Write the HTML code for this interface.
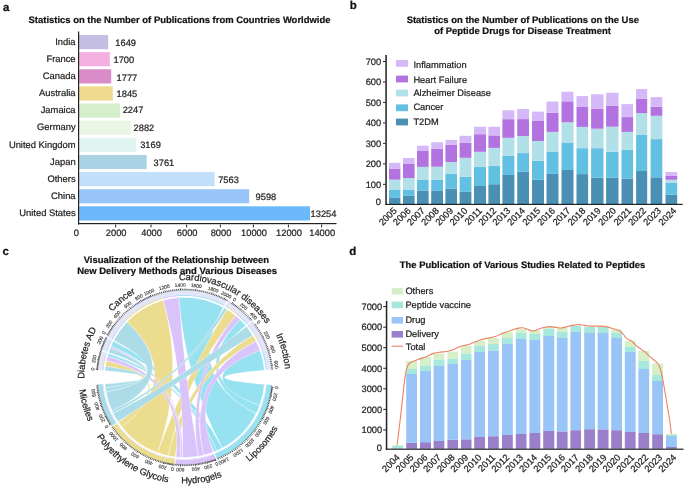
<!DOCTYPE html>
<html><head><meta charset="utf-8"><style>
html,body{margin:0;padding:0;background:#fff;}
svg{display:block;font-family:"Liberation Sans", sans-serif;text-rendering:geometricPrecision;will-change:transform;}
text{stroke:#222;stroke-width:0.22px;paint-order:stroke;}
</style></head><body>
<svg width="685" height="486" viewBox="0 0 685 486">
<rect width="685" height="486" fill="#fff"/>
<text x="3.00" y="11.00" font-size="11.5" text-anchor="start" font-weight="bold" fill="#111" >a</text>
<text x="349.80" y="9.00" font-size="11.5" text-anchor="start" font-weight="bold" fill="#111" >b</text>
<text x="2.60" y="254.60" font-size="11.5" text-anchor="start" font-weight="bold" fill="#111" >c</text>
<text x="349.20" y="254.60" font-size="11.5" text-anchor="start" font-weight="bold" fill="#111" >d</text>
<text x="179.50" y="22.60" font-size="9.45" text-anchor="middle" font-weight="bold" fill="#111" >Statistics on the Number of Publications from Countries Worldwide</text>
<rect x="79.20" y="35.00" width="29.00" height="14.20" fill="#c5bee3"/>
<text x="75.60" y="44.80" font-size="9.4" text-anchor="end" fill="#222" >India</text>
<text x="115.30" y="45.70" font-size="9.3" text-anchor="start" fill="#222" >1649</text>
<rect x="79.20" y="52.13" width="30.60" height="14.20" fill="#f2afe0"/>
<text x="75.60" y="61.93" font-size="9.4" text-anchor="end" fill="#222" >France</text>
<text x="113.50" y="63.00" font-size="9.3" text-anchor="start" fill="#222" >1700</text>
<rect x="79.20" y="69.26" width="32.00" height="14.20" fill="#d98cc7"/>
<text x="75.60" y="79.06" font-size="9.4" text-anchor="end" fill="#222" >Canada</text>
<text x="116.60" y="80.60" font-size="9.3" text-anchor="start" fill="#222" >1777</text>
<rect x="79.20" y="86.39" width="33.60" height="14.20" fill="#efd98c"/>
<text x="75.60" y="96.19" font-size="9.4" text-anchor="end" fill="#222" >Australia</text>
<text x="116.60" y="97.00" font-size="9.3" text-anchor="start" fill="#222" >1845</text>
<rect x="79.20" y="103.52" width="40.80" height="14.20" fill="#d4efca"/>
<text x="75.60" y="113.32" font-size="9.4" text-anchor="end" fill="#222" >Jamaica</text>
<text x="122.70" y="113.30" font-size="9.3" text-anchor="start" fill="#222" >2247</text>
<rect x="79.20" y="120.65" width="51.60" height="14.20" fill="#e9f6e3"/>
<text x="75.60" y="130.45" font-size="9.4" text-anchor="end" fill="#222" >Germany</text>
<text x="133.60" y="131.20" font-size="9.3" text-anchor="start" fill="#222" >2882</text>
<rect x="79.20" y="137.78" width="56.80" height="14.20" fill="#e0f5f1"/>
<text x="75.60" y="147.58" font-size="9.4" text-anchor="end" fill="#222" >United Kingdom</text>
<text x="140.20" y="148.40" font-size="9.3" text-anchor="start" fill="#222" >3169</text>
<rect x="79.20" y="154.91" width="67.40" height="14.20" fill="#a9d2e4"/>
<text x="75.60" y="164.71" font-size="9.4" text-anchor="end" fill="#222" >Japan</text>
<text x="153.60" y="165.60" font-size="9.3" text-anchor="start" fill="#222" >3761</text>
<rect x="79.20" y="172.04" width="135.40" height="14.20" fill="#c2dffa"/>
<text x="75.60" y="181.84" font-size="9.4" text-anchor="end" fill="#222" >Others</text>
<text x="218.20" y="183.00" font-size="9.3" text-anchor="start" fill="#222" >7563</text>
<rect x="79.20" y="189.17" width="170.00" height="14.20" fill="#98c6f9"/>
<text x="75.60" y="198.97" font-size="9.4" text-anchor="end" fill="#222" >China</text>
<text x="255.60" y="200.00" font-size="9.3" text-anchor="start" fill="#222" >9598</text>
<rect x="79.20" y="206.30" width="230.80" height="14.20" fill="#6bb8fa"/>
<text x="75.60" y="216.10" font-size="9.4" text-anchor="end" fill="#222" >United States</text>
<text x="310.60" y="217.20" font-size="9.3" text-anchor="start" fill="#222" >13254</text>
<rect x="78.00" y="31.50" width="1.20" height="193.10" fill="#222"/>
<rect x="78.00" y="223.00" width="258.50" height="1.20" fill="#222"/>
<text x="76.30" y="236.00" font-size="9.3" text-anchor="middle" fill="#222" >0</text>
<rect x="115.10" y="224.60" width="1.00" height="2.80" fill="#222"/>
<text x="116.20" y="236.00" font-size="9.3" text-anchor="middle" fill="#222" >2000</text>
<rect x="150.50" y="224.60" width="1.00" height="2.80" fill="#222"/>
<text x="151.60" y="236.00" font-size="9.3" text-anchor="middle" fill="#222" >4000</text>
<rect x="186.10" y="224.60" width="1.00" height="2.80" fill="#222"/>
<text x="187.20" y="236.00" font-size="9.3" text-anchor="middle" fill="#222" >6000</text>
<rect x="219.90" y="224.60" width="1.00" height="2.80" fill="#222"/>
<text x="221.00" y="236.00" font-size="9.3" text-anchor="middle" fill="#222" >8000</text>
<rect x="252.90" y="224.60" width="1.00" height="2.80" fill="#222"/>
<text x="254.00" y="236.00" font-size="9.3" text-anchor="middle" fill="#222" >10000</text>
<rect x="287.90" y="224.60" width="1.00" height="2.80" fill="#222"/>
<text x="289.00" y="236.00" font-size="9.3" text-anchor="middle" fill="#222" >12000</text>
<rect x="321.10" y="224.60" width="1.00" height="2.80" fill="#222"/>
<text x="322.20" y="236.00" font-size="9.3" text-anchor="middle" fill="#222" >14000</text>
<text x="522.80" y="22.60" font-size="9.45" text-anchor="middle" font-weight="bold" fill="#111" >Statistics on the Number of Publications on the Use</text>
<text x="522.50" y="33.60" font-size="9.45" text-anchor="middle" font-weight="bold" fill="#111" >of Peptide Drugs for Disease Treatment</text>
<rect x="389.00" y="197.90" width="11.40" height="6.10" fill="#4a8fb4"/>
<rect x="389.00" y="189.50" width="11.40" height="8.40" fill="#62c0e2"/>
<rect x="389.00" y="179.60" width="11.40" height="9.90" fill="#b1e0e8"/>
<rect x="389.00" y="168.90" width="11.40" height="10.70" fill="#b272e0"/>
<rect x="389.00" y="162.85" width="11.40" height="6.05" fill="#d5b8f8"/>
<text x="397.30" y="211.40" font-size="9.3" text-anchor="end" fill="#222" transform="rotate(-45 397.30 211.40)">2005</text>
<rect x="403.00" y="195.90" width="11.60" height="8.10" fill="#4a8fb4"/>
<rect x="403.00" y="189.50" width="11.60" height="6.40" fill="#62c0e2"/>
<rect x="403.00" y="178.00" width="11.60" height="11.50" fill="#b1e0e8"/>
<rect x="403.00" y="164.00" width="11.60" height="14.00" fill="#b272e0"/>
<rect x="403.00" y="158.00" width="11.60" height="6.00" fill="#d5b8f8"/>
<text x="411.40" y="211.40" font-size="9.3" text-anchor="end" fill="#222" transform="rotate(-45 411.40 211.40)">2006</text>
<rect x="417.00" y="190.50" width="11.60" height="13.50" fill="#4a8fb4"/>
<rect x="417.00" y="179.80" width="11.60" height="10.70" fill="#62c0e2"/>
<rect x="417.00" y="166.90" width="11.60" height="12.90" fill="#b1e0e8"/>
<rect x="417.00" y="151.00" width="11.60" height="15.90" fill="#b272e0"/>
<rect x="417.00" y="145.70" width="11.60" height="5.30" fill="#d5b8f8"/>
<text x="425.40" y="211.40" font-size="9.3" text-anchor="end" fill="#222" transform="rotate(-45 425.40 211.40)">2007</text>
<rect x="431.20" y="190.90" width="11.80" height="13.10" fill="#4a8fb4"/>
<rect x="431.20" y="180.00" width="11.80" height="10.90" fill="#62c0e2"/>
<rect x="431.20" y="166.70" width="11.80" height="13.30" fill="#b1e0e8"/>
<rect x="431.20" y="148.90" width="11.80" height="17.80" fill="#b272e0"/>
<rect x="431.20" y="142.30" width="11.80" height="6.60" fill="#d5b8f8"/>
<text x="439.70" y="211.40" font-size="9.3" text-anchor="end" fill="#222" transform="rotate(-45 439.70 211.40)">2008</text>
<rect x="445.40" y="188.50" width="11.60" height="15.50" fill="#4a8fb4"/>
<rect x="445.40" y="173.70" width="11.60" height="14.80" fill="#62c0e2"/>
<rect x="445.40" y="162.00" width="11.60" height="11.70" fill="#b1e0e8"/>
<rect x="445.40" y="144.90" width="11.60" height="17.10" fill="#b272e0"/>
<rect x="445.40" y="139.90" width="11.60" height="5.00" fill="#d5b8f8"/>
<text x="453.80" y="211.40" font-size="9.3" text-anchor="end" fill="#222" transform="rotate(-45 453.80 211.40)">2009</text>
<rect x="459.60" y="191.90" width="11.80" height="12.10" fill="#4a8fb4"/>
<rect x="459.60" y="176.60" width="11.80" height="15.30" fill="#62c0e2"/>
<rect x="459.60" y="157.80" width="11.80" height="18.80" fill="#b1e0e8"/>
<rect x="459.60" y="142.90" width="11.80" height="14.90" fill="#b272e0"/>
<rect x="459.60" y="135.80" width="11.80" height="7.10" fill="#d5b8f8"/>
<text x="468.10" y="211.40" font-size="9.3" text-anchor="end" fill="#222" transform="rotate(-45 468.10 211.40)">2010</text>
<rect x="474.00" y="186.00" width="12.00" height="18.00" fill="#4a8fb4"/>
<rect x="474.00" y="166.90" width="12.00" height="19.10" fill="#62c0e2"/>
<rect x="474.00" y="151.80" width="12.00" height="15.10" fill="#b1e0e8"/>
<rect x="474.00" y="134.20" width="12.00" height="17.60" fill="#b272e0"/>
<rect x="474.00" y="126.75" width="12.00" height="7.45" fill="#d5b8f8"/>
<text x="482.60" y="211.40" font-size="9.3" text-anchor="end" fill="#222" transform="rotate(-45 482.60 211.40)">2011</text>
<rect x="488.40" y="184.20" width="11.60" height="19.80" fill="#4a8fb4"/>
<rect x="488.40" y="165.70" width="11.60" height="18.50" fill="#62c0e2"/>
<rect x="488.40" y="147.90" width="11.60" height="17.80" fill="#b1e0e8"/>
<rect x="488.40" y="135.40" width="11.60" height="12.50" fill="#b272e0"/>
<rect x="488.40" y="126.75" width="11.60" height="8.65" fill="#d5b8f8"/>
<text x="496.80" y="211.40" font-size="9.3" text-anchor="end" fill="#222" transform="rotate(-45 496.80 211.40)">2012</text>
<rect x="502.40" y="175.00" width="12.00" height="29.00" fill="#4a8fb4"/>
<rect x="502.40" y="155.60" width="12.00" height="19.40" fill="#62c0e2"/>
<rect x="502.40" y="137.80" width="12.00" height="17.80" fill="#b1e0e8"/>
<rect x="502.40" y="119.20" width="12.00" height="18.60" fill="#b272e0"/>
<rect x="502.40" y="110.30" width="12.00" height="8.90" fill="#d5b8f8"/>
<text x="511.00" y="211.40" font-size="9.3" text-anchor="end" fill="#222" transform="rotate(-45 511.00 211.40)">2013</text>
<rect x="517.20" y="171.80" width="11.80" height="32.20" fill="#4a8fb4"/>
<rect x="517.20" y="153.10" width="11.80" height="18.70" fill="#62c0e2"/>
<rect x="517.20" y="136.00" width="11.80" height="17.10" fill="#b1e0e8"/>
<rect x="517.20" y="119.10" width="11.80" height="16.90" fill="#b272e0"/>
<rect x="517.20" y="109.00" width="11.80" height="10.10" fill="#d5b8f8"/>
<text x="525.76" y="211.40" font-size="9.3" text-anchor="end" fill="#222" transform="rotate(-45 525.76 211.40)">2014</text>
<rect x="532.00" y="179.80" width="12.00" height="24.20" fill="#4a8fb4"/>
<rect x="532.00" y="160.90" width="12.00" height="18.90" fill="#62c0e2"/>
<rect x="532.00" y="141.00" width="12.00" height="19.90" fill="#b1e0e8"/>
<rect x="532.00" y="121.00" width="12.00" height="20.00" fill="#b272e0"/>
<rect x="532.00" y="111.60" width="12.00" height="9.40" fill="#d5b8f8"/>
<text x="540.96" y="211.40" font-size="9.3" text-anchor="end" fill="#222" transform="rotate(-45 540.96 211.40)">2015</text>
<rect x="546.50" y="173.90" width="12.00" height="30.10" fill="#4a8fb4"/>
<rect x="546.50" y="151.60" width="12.00" height="22.30" fill="#62c0e2"/>
<rect x="546.50" y="131.90" width="12.00" height="19.70" fill="#b1e0e8"/>
<rect x="546.50" y="112.70" width="12.00" height="19.20" fill="#b272e0"/>
<rect x="546.50" y="101.50" width="12.00" height="11.20" fill="#d5b8f8"/>
<text x="555.75" y="211.40" font-size="9.3" text-anchor="end" fill="#222" transform="rotate(-45 555.75 211.40)">2016</text>
<rect x="561.50" y="170.00" width="12.00" height="34.00" fill="#4a8fb4"/>
<rect x="561.50" y="142.50" width="12.00" height="27.50" fill="#62c0e2"/>
<rect x="561.50" y="122.30" width="12.00" height="20.20" fill="#b1e0e8"/>
<rect x="561.50" y="101.30" width="12.00" height="21.00" fill="#b272e0"/>
<rect x="561.50" y="91.70" width="12.00" height="9.60" fill="#d5b8f8"/>
<text x="571.04" y="211.40" font-size="9.3" text-anchor="end" fill="#222" transform="rotate(-45 571.04 211.40)">2017</text>
<rect x="576.50" y="174.10" width="11.60" height="29.90" fill="#4a8fb4"/>
<rect x="576.50" y="148.20" width="11.60" height="25.90" fill="#62c0e2"/>
<rect x="576.50" y="126.90" width="11.60" height="21.30" fill="#b1e0e8"/>
<rect x="576.50" y="107.00" width="11.60" height="19.90" fill="#b272e0"/>
<rect x="576.50" y="96.10" width="11.60" height="10.90" fill="#d5b8f8"/>
<text x="586.14" y="211.40" font-size="9.3" text-anchor="end" fill="#222" transform="rotate(-45 586.14 211.40)">2018</text>
<rect x="591.10" y="177.70" width="12.40" height="26.30" fill="#4a8fb4"/>
<rect x="591.10" y="148.20" width="12.40" height="29.50" fill="#62c0e2"/>
<rect x="591.10" y="128.70" width="12.40" height="19.50" fill="#b1e0e8"/>
<rect x="591.10" y="109.00" width="12.40" height="19.70" fill="#b272e0"/>
<rect x="591.10" y="94.30" width="12.40" height="14.70" fill="#d5b8f8"/>
<text x="601.44" y="211.40" font-size="9.3" text-anchor="end" fill="#222" transform="rotate(-45 601.44 211.40)">2019</text>
<rect x="606.10" y="177.50" width="12.40" height="26.50" fill="#4a8fb4"/>
<rect x="606.10" y="151.80" width="12.40" height="25.70" fill="#62c0e2"/>
<rect x="606.10" y="126.70" width="12.40" height="25.10" fill="#b1e0e8"/>
<rect x="606.10" y="105.90" width="12.40" height="20.80" fill="#b272e0"/>
<rect x="606.10" y="92.70" width="12.40" height="13.20" fill="#d5b8f8"/>
<text x="616.73" y="211.40" font-size="9.3" text-anchor="end" fill="#222" transform="rotate(-45 616.73 211.40)">2020</text>
<rect x="621.50" y="178.50" width="11.60" height="25.50" fill="#4a8fb4"/>
<rect x="621.50" y="149.70" width="11.60" height="28.80" fill="#62c0e2"/>
<rect x="621.50" y="131.90" width="11.60" height="17.80" fill="#b1e0e8"/>
<rect x="621.50" y="117.10" width="11.60" height="14.80" fill="#b272e0"/>
<rect x="621.50" y="104.10" width="11.60" height="13.00" fill="#d5b8f8"/>
<text x="632.03" y="211.40" font-size="9.3" text-anchor="end" fill="#222" transform="rotate(-45 632.03 211.40)">2021</text>
<rect x="636.10" y="171.00" width="11.10" height="33.00" fill="#4a8fb4"/>
<rect x="636.10" y="135.00" width="11.10" height="36.00" fill="#62c0e2"/>
<rect x="636.10" y="113.20" width="11.10" height="21.80" fill="#b1e0e8"/>
<rect x="636.10" y="98.90" width="11.10" height="14.30" fill="#b272e0"/>
<rect x="636.10" y="89.10" width="11.10" height="9.80" fill="#d5b8f8"/>
<text x="646.67" y="211.40" font-size="9.3" text-anchor="end" fill="#222" transform="rotate(-45 646.67 211.40)">2022</text>
<rect x="650.60" y="177.30" width="11.70" height="26.70" fill="#4a8fb4"/>
<rect x="650.60" y="139.10" width="11.70" height="38.20" fill="#62c0e2"/>
<rect x="650.60" y="115.80" width="11.70" height="23.30" fill="#b1e0e8"/>
<rect x="650.60" y="106.70" width="11.70" height="9.10" fill="#b272e0"/>
<rect x="650.60" y="97.10" width="11.70" height="9.60" fill="#d5b8f8"/>
<text x="661.76" y="211.40" font-size="9.3" text-anchor="end" fill="#222" transform="rotate(-45 661.76 211.40)">2023</text>
<rect x="665.50" y="194.80" width="11.70" height="9.20" fill="#4a8fb4"/>
<rect x="665.50" y="182.80" width="11.70" height="12.00" fill="#62c0e2"/>
<rect x="665.50" y="179.75" width="11.70" height="3.05" fill="#b1e0e8"/>
<rect x="665.50" y="175.70" width="11.70" height="4.05" fill="#b272e0"/>
<rect x="665.50" y="172.00" width="11.70" height="3.70" fill="#d5b8f8"/>
<text x="676.96" y="211.40" font-size="9.3" text-anchor="end" fill="#222" transform="rotate(-45 676.96 211.40)">2024</text>
<rect x="385.30" y="55.00" width="1.50" height="150.00" fill="#222"/>
<rect x="385.30" y="203.80" width="297.40" height="1.20" fill="#222"/>
<text x="381.00" y="205.20" font-size="9.3" text-anchor="end" fill="#222" >0</text>
<rect x="383.00" y="183.83" width="2.60" height="1.00" fill="#222"/>
<text x="381.20" y="187.63" font-size="9.3" text-anchor="end" fill="#222" >100</text>
<rect x="383.00" y="163.35" width="2.60" height="1.00" fill="#222"/>
<text x="381.20" y="167.15" font-size="9.3" text-anchor="end" fill="#222" >200</text>
<rect x="383.00" y="142.88" width="2.60" height="1.00" fill="#222"/>
<text x="381.20" y="146.68" font-size="9.3" text-anchor="end" fill="#222" >300</text>
<rect x="383.00" y="122.40" width="2.60" height="1.00" fill="#222"/>
<text x="381.20" y="126.20" font-size="9.3" text-anchor="end" fill="#222" >400</text>
<rect x="383.00" y="101.93" width="2.60" height="1.00" fill="#222"/>
<text x="381.20" y="105.73" font-size="9.3" text-anchor="end" fill="#222" >500</text>
<rect x="383.00" y="81.45" width="2.60" height="1.00" fill="#222"/>
<text x="381.20" y="85.25" font-size="9.3" text-anchor="end" fill="#222" >600</text>
<rect x="383.00" y="60.98" width="2.60" height="1.00" fill="#222"/>
<text x="381.20" y="64.78" font-size="9.3" text-anchor="end" fill="#222" >700</text>
<rect x="396.00" y="60.00" width="12.00" height="6.80" fill="#d5b8f8"/>
<text x="413.40" y="67.60" font-size="9.3" text-anchor="start" fill="#222" >Inflammation</text>
<rect x="396.00" y="75.60" width="12.00" height="6.80" fill="#b272e0"/>
<text x="413.40" y="82.60" font-size="9.3" text-anchor="start" fill="#222" >Heart Failure</text>
<rect x="396.00" y="89.60" width="12.00" height="6.80" fill="#b1e0e8"/>
<text x="413.40" y="95.60" font-size="9.3" text-anchor="start" fill="#222" >Alzheimer Disease</text>
<rect x="396.00" y="104.40" width="12.00" height="6.80" fill="#62c0e2"/>
<text x="413.40" y="110.40" font-size="9.3" text-anchor="start" fill="#222" >Cancer</text>
<rect x="396.00" y="118.60" width="12.00" height="6.80" fill="#4a8fb4"/>
<text x="413.40" y="124.60" font-size="9.3" text-anchor="start" fill="#222" >T2DM</text>
<text x="522.50" y="268.00" font-size="9.45" text-anchor="middle" font-weight="bold" fill="#111" >The Publication of Various Studies Related to Peptides</text>
<rect x="392.20" y="446.00" width="11.20" height="2.80" fill="#a6e8dc"/>
<rect x="392.20" y="445.00" width="11.20" height="1.00" fill="#d5efc9"/>
<text x="400.40" y="458.00" font-size="9.3" text-anchor="end" fill="#222" transform="rotate(-45 400.40 458.00)">2004</text>
<rect x="406.20" y="442.80" width="10.80" height="6.00" fill="#9a7fcb"/>
<rect x="406.20" y="374.00" width="10.80" height="68.80" fill="#98c4f8"/>
<rect x="406.20" y="369.00" width="10.80" height="5.00" fill="#a6e8dc"/>
<rect x="406.20" y="361.00" width="10.80" height="8.00" fill="#d5efc9"/>
<text x="414.20" y="458.00" font-size="9.3" text-anchor="end" fill="#222" transform="rotate(-45 414.20 458.00)">2005</text>
<rect x="420.00" y="442.20" width="11.00" height="6.60" fill="#9a7fcb"/>
<rect x="420.00" y="371.00" width="11.00" height="71.20" fill="#98c4f8"/>
<rect x="420.00" y="366.00" width="11.00" height="5.00" fill="#a6e8dc"/>
<rect x="420.00" y="357.00" width="11.00" height="9.00" fill="#d5efc9"/>
<text x="428.10" y="458.00" font-size="9.3" text-anchor="end" fill="#222" transform="rotate(-45 428.10 458.00)">2006</text>
<rect x="433.60" y="441.00" width="10.80" height="7.80" fill="#9a7fcb"/>
<rect x="433.60" y="366.00" width="10.80" height="75.00" fill="#98c4f8"/>
<rect x="433.60" y="359.60" width="10.80" height="6.40" fill="#a6e8dc"/>
<rect x="433.60" y="353.60" width="10.80" height="6.00" fill="#d5efc9"/>
<text x="441.60" y="458.00" font-size="9.3" text-anchor="end" fill="#222" transform="rotate(-45 441.60 458.00)">2007</text>
<rect x="447.40" y="439.80" width="10.60" height="9.00" fill="#9a7fcb"/>
<rect x="447.40" y="364.00" width="10.60" height="75.80" fill="#98c4f8"/>
<rect x="447.40" y="358.60" width="10.60" height="5.40" fill="#a6e8dc"/>
<rect x="447.40" y="351.60" width="10.60" height="7.00" fill="#d5efc9"/>
<text x="455.30" y="458.00" font-size="9.3" text-anchor="end" fill="#222" transform="rotate(-45 455.30 458.00)">2008</text>
<rect x="461.00" y="439.30" width="10.50" height="9.50" fill="#9a7fcb"/>
<rect x="461.00" y="360.00" width="10.50" height="79.30" fill="#98c4f8"/>
<rect x="461.00" y="353.60" width="10.50" height="6.40" fill="#a6e8dc"/>
<rect x="461.00" y="346.00" width="10.50" height="7.60" fill="#d5efc9"/>
<text x="468.85" y="458.00" font-size="9.3" text-anchor="end" fill="#222" transform="rotate(-45 468.85 458.00)">2009</text>
<rect x="474.20" y="437.00" width="10.80" height="11.80" fill="#9a7fcb"/>
<rect x="474.20" y="352.00" width="10.80" height="85.00" fill="#98c4f8"/>
<rect x="474.20" y="346.00" width="10.80" height="6.00" fill="#a6e8dc"/>
<rect x="474.20" y="341.00" width="10.80" height="5.00" fill="#d5efc9"/>
<text x="482.20" y="458.00" font-size="9.3" text-anchor="end" fill="#222" transform="rotate(-45 482.20 458.00)">2010</text>
<rect x="488.00" y="436.20" width="10.80" height="12.60" fill="#9a7fcb"/>
<rect x="488.00" y="350.40" width="10.80" height="85.80" fill="#98c4f8"/>
<rect x="488.00" y="344.00" width="10.80" height="6.40" fill="#a6e8dc"/>
<rect x="488.00" y="338.00" width="10.80" height="6.00" fill="#d5efc9"/>
<text x="496.00" y="458.00" font-size="9.3" text-anchor="end" fill="#222" transform="rotate(-45 496.00 458.00)">2011</text>
<rect x="502.00" y="435.00" width="10.80" height="13.80" fill="#9a7fcb"/>
<rect x="502.00" y="344.00" width="10.80" height="91.00" fill="#98c4f8"/>
<rect x="502.00" y="338.00" width="10.80" height="6.00" fill="#a6e8dc"/>
<rect x="502.00" y="332.00" width="10.80" height="6.00" fill="#d5efc9"/>
<text x="510.00" y="458.00" font-size="9.3" text-anchor="end" fill="#222" transform="rotate(-45 510.00 458.00)">2012</text>
<rect x="515.80" y="434.00" width="10.70" height="14.80" fill="#9a7fcb"/>
<rect x="515.80" y="339.00" width="10.70" height="95.00" fill="#98c4f8"/>
<rect x="515.80" y="333.00" width="10.70" height="6.00" fill="#a6e8dc"/>
<rect x="515.80" y="329.00" width="10.70" height="4.00" fill="#d5efc9"/>
<text x="523.77" y="458.00" font-size="9.3" text-anchor="end" fill="#222" transform="rotate(-45 523.77 458.00)">2013</text>
<rect x="529.40" y="433.00" width="10.90" height="15.80" fill="#9a7fcb"/>
<rect x="529.40" y="340.00" width="10.90" height="93.00" fill="#98c4f8"/>
<rect x="529.40" y="334.00" width="10.90" height="6.00" fill="#a6e8dc"/>
<rect x="529.40" y="330.40" width="10.90" height="3.60" fill="#d5efc9"/>
<text x="537.75" y="458.00" font-size="9.3" text-anchor="end" fill="#222" transform="rotate(-45 537.75 458.00)">2014</text>
<rect x="543.20" y="431.00" width="11.10" height="17.80" fill="#9a7fcb"/>
<rect x="543.20" y="336.00" width="11.10" height="95.00" fill="#98c4f8"/>
<rect x="543.20" y="328.50" width="11.10" height="7.50" fill="#a6e8dc"/>
<rect x="543.20" y="327.00" width="11.10" height="1.50" fill="#d5efc9"/>
<text x="551.92" y="458.00" font-size="9.3" text-anchor="end" fill="#222" transform="rotate(-45 551.92 458.00)">2015</text>
<rect x="556.80" y="431.40" width="10.80" height="17.40" fill="#9a7fcb"/>
<rect x="556.80" y="338.00" width="10.80" height="93.40" fill="#98c4f8"/>
<rect x="556.80" y="331.60" width="10.80" height="6.40" fill="#a6e8dc"/>
<rect x="556.80" y="328.00" width="10.80" height="3.60" fill="#d5efc9"/>
<text x="565.64" y="458.00" font-size="9.3" text-anchor="end" fill="#222" transform="rotate(-45 565.64 458.00)">2016</text>
<rect x="570.40" y="430.20" width="10.60" height="18.60" fill="#9a7fcb"/>
<rect x="570.40" y="332.00" width="10.60" height="98.20" fill="#98c4f8"/>
<rect x="570.40" y="325.60" width="10.60" height="6.40" fill="#a6e8dc"/>
<rect x="570.40" y="325.00" width="10.60" height="0.60" fill="#d5efc9"/>
<text x="579.41" y="458.00" font-size="9.3" text-anchor="end" fill="#222" transform="rotate(-45 579.41 458.00)">2017</text>
<rect x="584.20" y="429.20" width="10.80" height="19.60" fill="#9a7fcb"/>
<rect x="584.20" y="333.00" width="10.80" height="96.20" fill="#98c4f8"/>
<rect x="584.20" y="326.60" width="10.80" height="6.40" fill="#a6e8dc"/>
<rect x="584.20" y="326.00" width="10.80" height="0.60" fill="#d5efc9"/>
<text x="593.58" y="458.00" font-size="9.3" text-anchor="end" fill="#222" transform="rotate(-45 593.58 458.00)">2018</text>
<rect x="597.60" y="429.40" width="10.90" height="19.40" fill="#9a7fcb"/>
<rect x="597.60" y="333.00" width="10.90" height="96.40" fill="#98c4f8"/>
<rect x="597.60" y="327.00" width="10.90" height="6.00" fill="#a6e8dc"/>
<rect x="597.60" y="326.40" width="10.90" height="0.60" fill="#d5efc9"/>
<text x="607.30" y="458.00" font-size="9.3" text-anchor="end" fill="#222" transform="rotate(-45 607.30 458.00)">2019</text>
<rect x="611.20" y="430.20" width="10.80" height="18.60" fill="#9a7fcb"/>
<rect x="611.20" y="338.00" width="10.80" height="92.20" fill="#98c4f8"/>
<rect x="611.20" y="333.00" width="10.80" height="5.00" fill="#a6e8dc"/>
<rect x="611.20" y="329.60" width="10.80" height="3.40" fill="#d5efc9"/>
<text x="621.12" y="458.00" font-size="9.3" text-anchor="end" fill="#222" transform="rotate(-45 621.12 458.00)">2020</text>
<rect x="624.80" y="432.00" width="10.80" height="16.80" fill="#9a7fcb"/>
<rect x="624.80" y="352.00" width="10.80" height="80.00" fill="#98c4f8"/>
<rect x="624.80" y="347.00" width="10.80" height="5.00" fill="#a6e8dc"/>
<rect x="624.80" y="341.00" width="10.80" height="6.00" fill="#d5efc9"/>
<text x="634.99" y="458.00" font-size="9.3" text-anchor="end" fill="#222" transform="rotate(-45 634.99 458.00)">2021</text>
<rect x="638.40" y="433.00" width="10.80" height="15.80" fill="#9a7fcb"/>
<rect x="638.40" y="369.00" width="10.80" height="64.00" fill="#98c4f8"/>
<rect x="638.40" y="361.00" width="10.80" height="8.00" fill="#a6e8dc"/>
<rect x="638.40" y="351.00" width="10.80" height="10.00" fill="#d5efc9"/>
<text x="648.86" y="458.00" font-size="9.3" text-anchor="end" fill="#222" transform="rotate(-45 648.86 458.00)">2022</text>
<rect x="652.20" y="434.20" width="10.80" height="14.60" fill="#9a7fcb"/>
<rect x="652.20" y="381.00" width="10.80" height="53.20" fill="#98c4f8"/>
<rect x="652.20" y="375.00" width="10.80" height="6.00" fill="#a6e8dc"/>
<rect x="652.20" y="363.60" width="10.80" height="11.40" fill="#d5efc9"/>
<text x="662.93" y="458.00" font-size="9.3" text-anchor="end" fill="#222" transform="rotate(-45 662.93 458.00)">2023</text>
<rect x="666.00" y="447.00" width="10.80" height="1.80" fill="#9a7fcb"/>
<rect x="666.00" y="436.00" width="10.80" height="11.00" fill="#98c4f8"/>
<rect x="666.00" y="435.00" width="10.80" height="1.00" fill="#a6e8dc"/>
<rect x="666.00" y="433.80" width="10.80" height="1.20" fill="#d5efc9"/>
<text x="677.01" y="458.00" font-size="9.3" text-anchor="end" fill="#222" transform="rotate(-45 677.01 458.00)">2024</text>
<path d="M397.10,445.00 C397.45,442.20 398.50,434.08 399.20,428.20 C399.90,422.32 400.62,415.87 401.30,409.70 C401.98,403.53 402.72,396.35 403.30,391.20 C403.88,386.05 404.28,382.42 404.80,378.80 C405.32,375.18 405.78,371.90 406.40,369.50 C407.02,367.10 407.65,365.67 408.50,364.40 C409.35,363.13 409.80,362.75 411.50,361.90 C413.20,361.05 416.45,360.08 418.70,359.30 C420.95,358.52 423.22,357.90 425.00,357.20 C426.78,356.50 427.93,355.73 429.40,355.10 C430.87,354.47 432.10,353.88 433.80,353.40 C435.50,352.92 437.42,352.52 439.60,352.20 C441.78,351.88 444.72,351.87 446.90,351.50 C449.08,351.13 451.00,350.62 452.70,350.00 C454.40,349.38 455.63,348.47 457.10,347.80 C458.57,347.13 459.80,346.48 461.50,346.00 C463.20,345.52 465.35,345.45 467.30,344.90 C469.25,344.35 471.25,343.43 473.20,342.70 C475.15,341.97 477.30,341.10 479.00,340.50 C480.70,339.90 481.70,339.53 483.40,339.10 C485.10,338.67 487.25,338.32 489.20,337.90 C491.15,337.48 493.15,337.25 495.10,336.60 C497.05,335.95 498.95,334.80 500.90,334.00 C502.85,333.20 504.85,332.48 506.80,331.80 C508.75,331.12 510.67,330.52 512.60,329.90 C514.53,329.28 516.70,328.45 518.40,328.10 C520.10,327.75 521.65,327.75 522.80,327.80 C523.95,327.85 524.17,328.02 525.30,328.40 C526.43,328.78 528.15,329.67 529.60,330.10 C531.05,330.53 532.53,331.13 534.00,331.00 C535.47,330.87 536.78,329.88 538.40,329.30 C540.02,328.72 541.80,327.95 543.70,327.50 C545.60,327.05 547.62,326.60 549.80,326.60 C551.98,326.60 554.77,327.28 556.80,327.50 C558.83,327.72 560.25,328.05 562.00,327.90 C563.75,327.75 565.53,327.02 567.30,326.60 C569.07,326.18 570.70,325.75 572.60,325.40 C574.50,325.05 576.67,324.50 578.70,324.50 C580.73,324.50 582.62,325.13 584.80,325.40 C586.98,325.67 589.17,325.98 591.80,326.10 C594.43,326.22 598.27,326.02 600.60,326.10 C602.93,326.18 604.05,326.28 605.80,326.60 C607.55,326.92 609.48,327.55 611.10,328.00 C612.72,328.45 614.03,328.80 615.50,329.30 C616.97,329.80 618.58,330.13 619.90,331.00 C621.22,331.87 622.23,333.23 623.40,334.50 C624.57,335.77 625.45,337.43 626.90,338.60 C628.35,339.77 630.50,340.28 632.10,341.50 C633.70,342.72 634.95,344.58 636.50,345.90 C638.05,347.22 639.92,348.37 641.40,349.40 C642.88,350.43 644.07,350.98 645.40,352.10 C646.73,353.22 647.83,354.67 649.40,356.10 C650.97,357.53 653.23,359.22 654.80,360.70 C656.37,362.18 657.68,362.87 658.80,365.00 C659.92,367.13 660.62,369.85 661.50,373.50 C662.38,377.15 663.22,382.00 664.10,386.90 C664.98,391.80 665.90,397.55 666.80,402.90 C667.70,408.25 668.73,413.87 669.50,419.00 C670.27,424.13 671.08,431.25 671.40,433.70" fill="none" stroke="#ee8262" stroke-width="1.1"/>
<rect x="385.80" y="301.00" width="1.50" height="148.80" fill="#222"/>
<rect x="385.80" y="448.60" width="297.80" height="1.20" fill="#222"/>
<text x="381.80" y="450.80" font-size="9.3" text-anchor="end" fill="#222" >0</text>
<rect x="383.20" y="429.44" width="2.80" height="1.00" fill="#222"/>
<text x="382.20" y="433.24" font-size="9.3" text-anchor="end" fill="#222" >1000</text>
<rect x="383.20" y="408.88" width="2.80" height="1.00" fill="#222"/>
<text x="382.20" y="412.68" font-size="9.3" text-anchor="end" fill="#222" >2000</text>
<rect x="383.20" y="388.32" width="2.80" height="1.00" fill="#222"/>
<text x="382.20" y="392.12" font-size="9.3" text-anchor="end" fill="#222" >3000</text>
<rect x="383.20" y="367.76" width="2.80" height="1.00" fill="#222"/>
<text x="382.20" y="371.56" font-size="9.3" text-anchor="end" fill="#222" >4000</text>
<rect x="383.20" y="347.20" width="2.80" height="1.00" fill="#222"/>
<text x="382.20" y="351.00" font-size="9.3" text-anchor="end" fill="#222" >5000</text>
<rect x="383.20" y="326.64" width="2.80" height="1.00" fill="#222"/>
<text x="382.20" y="330.44" font-size="9.3" text-anchor="end" fill="#222" >6000</text>
<rect x="383.20" y="306.08" width="2.80" height="1.00" fill="#222"/>
<text x="382.20" y="309.88" font-size="9.3" text-anchor="end" fill="#222" >7000</text>
<rect x="391.60" y="288.00" width="11.40" height="6.60" fill="#d5efc9"/>
<text x="405.40" y="294.40" font-size="9.3" text-anchor="start" fill="#222" >Others</text>
<rect x="391.60" y="301.60" width="11.40" height="6.60" fill="#a6e8dc"/>
<text x="405.40" y="308.00" font-size="9.3" text-anchor="start" fill="#222" >Peptide vaccine</text>
<rect x="391.60" y="317.00" width="11.40" height="6.60" fill="#98c4f8"/>
<text x="405.40" y="323.00" font-size="9.3" text-anchor="start" fill="#222" >Drug</text>
<rect x="391.60" y="331.00" width="11.40" height="6.60" fill="#9a7fcb"/>
<text x="405.40" y="337.00" font-size="9.3" text-anchor="start" fill="#222" >Delivery</text>
<line x1="391.6" y1="346.2" x2="403" y2="346.2" stroke="#ee8262" stroke-width="1.1"/>
<text x="405.80" y="349.60" font-size="9.3" text-anchor="start" fill="#222" >Total</text>
<path d="M97.61,370.09 A87.40,87.40 0 0 1 101.30,351.26 L106.64,352.94 A81.80,81.80 0 0 0 103.19,370.56 Z" fill="#e3e6f8"/>
<path d="M102.59,370.50 A82.40,82.40 0 0 1 103.10,365.93 L103.80,366.03 A81.70,81.70 0 0 0 103.29,370.56 Z" fill="#abdce8"/>
<path d="M103.10,365.93 A82.40,82.40 0 0 1 104.13,360.13 L104.82,360.27 A81.70,81.70 0 0 0 103.80,366.03 Z" fill="#ebdc8e"/>
<path d="M104.13,360.13 A82.40,82.40 0 0 1 105.26,355.52 L105.93,355.70 A81.70,81.70 0 0 0 104.82,360.27 Z" fill="#dac2fa"/>
<path d="M105.26,355.52 A82.40,82.40 0 0 1 106.07,352.76 L106.74,352.97 A81.70,81.70 0 0 0 105.93,355.70 Z" fill="#96e2f0"/>
<path d="M101.67,350.10 A87.40,87.40 0 0 1 106.83,337.72 L111.82,340.26 A81.80,81.80 0 0 0 106.99,351.85 Z" fill="#e3e6f8"/>
<path d="M106.42,351.66 A82.40,82.40 0 0 1 108.09,347.07 L108.74,347.32 A81.70,81.70 0 0 0 107.09,351.88 Z" fill="#abdce8"/>
<path d="M108.09,347.07 A82.40,82.40 0 0 1 108.85,345.20 L109.49,345.48 A81.70,81.70 0 0 0 108.74,347.32 Z" fill="#dac2fa"/>
<path d="M108.85,345.20 A82.40,82.40 0 0 1 111.28,339.99 L111.90,340.31 A81.70,81.70 0 0 0 109.49,345.48 Z" fill="#96e2f0"/>
<path d="M107.32,336.77 A87.40,87.40 0 0 1 226.81,300.81 L224.11,305.72 A81.80,81.80 0 0 0 112.27,339.38 Z" fill="#e3e6f8"/>
<path d="M111.74,339.10 A82.40,82.40 0 0 1 125.33,320.26 L125.83,320.75 A81.70,81.70 0 0 0 112.36,339.42 Z" fill="#abdce8"/>
<path d="M125.33,320.26 A82.40,82.40 0 0 1 162.68,298.00 L162.87,298.67 A81.70,81.70 0 0 0 125.83,320.75 Z" fill="#ebdc8e"/>
<path d="M162.68,298.00 A82.40,82.40 0 0 1 178.67,295.22 L178.72,295.92 A81.70,81.70 0 0 0 162.87,298.67 Z" fill="#dac2fa"/>
<path d="M178.67,295.22 A82.40,82.40 0 0 1 224.40,305.19 L224.06,305.81 A81.70,81.70 0 0 0 178.72,295.92 Z" fill="#96e2f0"/>
<path d="M227.87,301.41 A87.40,87.40 0 0 1 251.26,320.75 L246.99,324.38 A81.80,81.80 0 0 0 225.10,306.28 Z" fill="#e3e6f8"/>
<path d="M225.40,305.75 A82.40,82.40 0 0 1 228.24,307.44 L227.87,308.04 A81.70,81.70 0 0 0 225.06,306.36 Z" fill="#abdce8"/>
<path d="M228.24,307.44 A82.40,82.40 0 0 1 237.22,313.91 L236.78,314.45 A81.70,81.70 0 0 0 227.87,308.04 Z" fill="#ebdc8e"/>
<path d="M237.22,313.91 A82.40,82.40 0 0 1 241.63,317.83 L241.15,318.33 A81.70,81.70 0 0 0 236.78,314.45 Z" fill="#dac2fa"/>
<path d="M241.63,317.83 A82.40,82.40 0 0 1 247.45,323.99 L246.92,324.45 A81.70,81.70 0 0 0 241.15,318.33 Z" fill="#96e2f0"/>
<path d="M252.04,321.69 A87.40,87.40 0 0 1 271.74,369.48 L266.16,369.99 A81.80,81.80 0 0 0 247.73,325.26 Z" fill="#e3e6f8"/>
<path d="M248.19,324.88 A82.40,82.40 0 0 1 254.73,333.98 L254.14,334.35 A81.70,81.70 0 0 0 247.65,325.32 Z" fill="#abdce8"/>
<path d="M254.73,333.98 A82.40,82.40 0 0 1 258.18,340.12 L257.56,340.44 A81.70,81.70 0 0 0 254.14,334.35 Z" fill="#ebdc8e"/>
<path d="M258.18,340.12 A82.40,82.40 0 0 1 262.28,349.62 L261.62,349.86 A81.70,81.70 0 0 0 257.56,340.44 Z" fill="#dac2fa"/>
<path d="M262.28,349.62 A82.40,82.40 0 0 1 266.76,369.93 L266.06,370.00 A81.70,81.70 0 0 0 261.62,349.86 Z" fill="#96e2f0"/>
<path d="M271.77,385.02 A87.40,87.40 0 0 1 216.87,458.66 L214.81,453.46 A81.80,81.80 0 0 0 266.19,384.53 Z" fill="#96e2f0"/>
<path d="M266.89,384.59 A82.50,82.50 0 0 1 215.07,454.11 L214.78,453.36 A81.70,81.70 0 0 0 266.09,384.52 Z" fill="#e8eafa"/>
<path d="M216.02,458.99 A87.40,87.40 0 0 1 175.26,464.29 L175.87,458.72 A81.80,81.80 0 0 0 214.01,453.77 Z" fill="#dac2fa"/>
<path d="M214.27,454.42 A82.50,82.50 0 0 1 175.79,459.42 L175.88,458.62 A81.70,81.70 0 0 0 213.98,453.67 Z" fill="#e8eafa"/>
<path d="M174.35,464.19 A87.40,87.40 0 0 1 112.41,426.53 L117.04,423.38 A81.80,81.80 0 0 0 175.01,458.62 Z" fill="#ebdc8e"/>
<path d="M174.93,459.32 A82.50,82.50 0 0 1 116.47,423.77 L117.13,423.32 A81.70,81.70 0 0 0 175.03,458.53 Z" fill="#e8eafa"/>
<path d="M111.90,425.77 A87.40,87.40 0 0 1 97.59,384.56 L103.18,384.10 A81.80,81.80 0 0 0 116.57,422.67 Z" fill="#abdce8"/>
<path d="M115.98,423.05 A82.50,82.50 0 0 1 102.48,384.16 L103.27,384.09 A81.70,81.70 0 0 0 116.65,422.61 Z" fill="#e8eafa"/>
<path d="M107.57,356.16 A80.00,80.00 0 0 1 108.36,353.48 Q184.70,377.40 216.90,450.63 A80.00,80.00 0 0 1 214.15,451.78 Q184.70,377.40 107.57,356.16 Z" fill="#96e2f0" stroke="#fff" stroke-width="0.35"/>
<path d="M111.06,346.14 A80.00,80.00 0 0 1 113.42,341.08 Q184.70,377.40 222.26,448.03 A80.00,80.00 0 0 1 216.90,450.63 Q184.70,377.40 111.06,346.14 Z" fill="#96e2f0" stroke="#fff" stroke-width="0.35"/>
<path d="M178.84,297.61 A80.00,80.00 0 0 1 223.24,307.30 Q184.70,377.40 256.12,413.44 A80.00,80.00 0 0 1 222.26,448.03 Q184.70,377.40 178.84,297.61 Z" fill="#96e2f0" stroke="#fff" stroke-width="0.35"/>
<path d="M239.97,319.56 A80.00,80.00 0 0 1 245.62,325.55 Q184.70,377.40 259.65,405.39 A80.00,80.00 0 0 1 256.12,413.44 Q184.70,377.40 239.97,319.56 Z" fill="#96e2f0" stroke="#fff" stroke-width="0.35"/>
<path d="M260.02,350.43 A80.00,80.00 0 0 1 264.37,370.15 Q184.70,377.40 264.40,384.37 A80.00,80.00 0 0 1 259.65,405.39 Q184.70,377.40 260.02,350.43 Z" fill="#96e2f0" stroke="#fff" stroke-width="0.35"/>
<path d="M105.48,366.27 A80.00,80.00 0 0 1 106.48,360.63 Q184.70,377.40 122.05,427.14 A80.00,80.00 0 0 1 118.53,422.37 Q184.70,377.40 105.48,366.27 Z" fill="#ebdc8e" stroke="#fff" stroke-width="0.35"/>
<path d="M127.06,321.93 A80.00,80.00 0 0 1 163.32,300.31 Q184.70,377.40 157.53,452.65 A80.00,80.00 0 0 1 122.05,427.14 Q184.70,377.40 127.06,321.93 Z" fill="#ebdc8e" stroke="#fff" stroke-width="0.35"/>
<path d="M226.98,309.48 A80.00,80.00 0 0 1 235.69,315.76 Q184.70,377.40 168.24,455.69 A80.00,80.00 0 0 1 157.53,452.65 Q184.70,377.40 226.98,309.48 Z" fill="#ebdc8e" stroke="#fff" stroke-width="0.35"/>
<path d="M252.69,335.24 A80.00,80.00 0 0 1 256.04,341.21 Q184.70,377.40 175.23,456.84 A80.00,80.00 0 0 1 168.24,455.69 Q184.70,377.40 252.69,335.24 Z" fill="#ebdc8e" stroke="#fff" stroke-width="0.35"/>
<path d="M106.48,360.63 A80.00,80.00 0 0 1 107.57,356.16 Q184.70,377.40 180.64,457.30 A80.00,80.00 0 0 1 176.06,456.93 Q184.70,377.40 106.48,360.63 Z" fill="#dac2fa" stroke="#fff" stroke-width="0.35"/>
<path d="M110.32,347.95 A80.00,80.00 0 0 1 111.06,346.14 Q184.70,377.40 182.58,457.37 A80.00,80.00 0 0 1 180.64,457.30 Q184.70,377.40 110.32,347.95 Z" fill="#dac2fa" stroke="#fff" stroke-width="0.35"/>
<path d="M163.32,300.31 A80.00,80.00 0 0 1 178.84,297.61 Q184.70,377.40 198.24,456.25 A80.00,80.00 0 0 1 182.58,457.37 Q184.70,377.40 163.32,300.31 Z" fill="#dac2fa" stroke="#fff" stroke-width="0.35"/>
<path d="M235.69,315.76 A80.00,80.00 0 0 1 239.97,319.56 Q184.70,377.40 203.82,455.08 A80.00,80.00 0 0 1 198.24,456.25 Q184.70,377.40 235.69,315.76 Z" fill="#dac2fa" stroke="#fff" stroke-width="0.35"/>
<path d="M256.04,341.21 A80.00,80.00 0 0 1 260.02,350.43 Q184.70,377.40 213.37,452.09 A80.00,80.00 0 0 1 203.82,455.08 Q184.70,377.40 256.04,341.21 Z" fill="#dac2fa" stroke="#fff" stroke-width="0.35"/>
<path d="M104.98,370.71 A80.00,80.00 0 0 1 105.48,366.27 Q184.70,377.40 105.39,387.86 A80.00,80.00 0 0 1 104.97,383.96 Q184.70,377.40 104.98,370.71 Z" fill="#abdce8" stroke="#fff" stroke-width="0.35"/>
<path d="M108.70,352.41 A80.00,80.00 0 0 1 110.32,347.95 Q184.70,377.40 106.04,391.98 A80.00,80.00 0 0 1 105.39,387.86 Q184.70,377.40 108.70,352.41 Z" fill="#abdce8" stroke="#fff" stroke-width="0.35"/>
<path d="M113.87,340.21 A80.00,80.00 0 0 1 127.06,321.93 Q184.70,377.40 112.04,410.86 A80.00,80.00 0 0 1 106.04,391.98 Q184.70,377.40 113.87,340.21 Z" fill="#abdce8" stroke="#fff" stroke-width="0.35"/>
<path d="M224.22,307.84 A80.00,80.00 0 0 1 226.98,309.48 Q184.70,377.40 113.26,413.41 A80.00,80.00 0 0 1 112.04,410.86 Q184.70,377.40 224.22,307.84 Z" fill="#abdce8" stroke="#fff" stroke-width="0.35"/>
<path d="M246.34,326.41 A80.00,80.00 0 0 1 252.69,335.24 Q184.70,377.40 118.07,421.67 A80.00,80.00 0 0 1 113.26,413.41 Q184.70,377.40 246.34,326.41 Z" fill="#abdce8" stroke="#fff" stroke-width="0.35"/>
<text x="0" y="0" font-size="4.9" text-anchor="middle" fill="#333" style="stroke-width:0.12px;stroke:#333" transform="translate(94.37,369.18) rotate(-84.80)">0</text>
<text x="0" y="0" font-size="4.9" text-anchor="middle" fill="#333" style="stroke-width:0.12px;stroke:#333" transform="translate(95.82,359.32) rotate(-78.50)">200</text>
<path d="M97.61,370.09 A87.40,87.40 0 0 1 101.30,351.26" fill="none" stroke="#555" stroke-width="0.3"/>
<text x="0" y="0" font-size="4.9" text-anchor="middle" fill="#333" style="stroke-width:0.12px;stroke:#333" transform="translate(101.59,341.09) rotate(-66.40)">200</text>
<path d="M101.67,350.10 A87.40,87.40 0 0 1 106.83,337.72" fill="none" stroke="#555" stroke-width="0.3"/>
<text x="0" y="0" font-size="4.9" text-anchor="middle" fill="#333" style="stroke-width:0.12px;stroke:#333" transform="translate(105.30,333.57) rotate(-61.10)">0</text>
<text x="0" y="0" font-size="4.9" text-anchor="middle" fill="#333" style="stroke-width:0.12px;stroke:#333" transform="translate(110.58,325.12) rotate(-54.80)">200</text>
<text x="0" y="0" font-size="4.9" text-anchor="middle" fill="#333" style="stroke-width:0.12px;stroke:#333" transform="translate(118.15,315.77) rotate(-47.20)">400</text>
<text x="0" y="0" font-size="4.9" text-anchor="middle" fill="#333" style="stroke-width:0.12px;stroke:#333" transform="translate(128.73,306.02) rotate(-38.10)">600</text>
<text x="0" y="0" font-size="4.9" text-anchor="middle" fill="#333" style="stroke-width:0.12px;stroke:#333" transform="translate(139.76,298.62) rotate(-29.70)">800</text>
<text x="0" y="0" font-size="4.9" text-anchor="middle" fill="#333" style="stroke-width:0.12px;stroke:#333" transform="translate(149.84,293.66) rotate(-22.60)">1000</text>
<text x="0" y="0" font-size="4.9" text-anchor="middle" fill="#333" style="stroke-width:0.12px;stroke:#333" transform="translate(164.61,288.95) rotate(-12.80)">1200</text>
<text x="0" y="0" font-size="4.9" text-anchor="middle" fill="#333" style="stroke-width:0.12px;stroke:#333" transform="translate(180.27,286.81) rotate(-2.80)">1400</text>
<text x="0" y="0" font-size="4.9" text-anchor="middle" fill="#333" style="stroke-width:0.12px;stroke:#333" transform="translate(196.07,287.42) rotate(7.20)">1600</text>
<text x="0" y="0" font-size="4.9" text-anchor="middle" fill="#333" style="stroke-width:0.12px;stroke:#333" transform="translate(212.58,291.09) rotate(17.90)">1800</text>
<text x="0" y="0" font-size="4.9" text-anchor="middle" fill="#333" style="stroke-width:0.12px;stroke:#333" transform="translate(225.45,296.37) rotate(26.70)">2000</text>
<path d="M107.32,336.77 A87.40,87.40 0 0 1 226.81,300.81" fill="none" stroke="#555" stroke-width="0.3"/>
<text x="0" y="0" font-size="4.9" text-anchor="middle" fill="#333" style="stroke-width:0.12px;stroke:#333" transform="translate(233.57,300.99) rotate(32.60)">0</text>
<text x="0" y="0" font-size="4.9" text-anchor="middle" fill="#333" style="stroke-width:0.12px;stroke:#333" transform="translate(242.64,307.62) rotate(39.70)">200</text>
<text x="0" y="0" font-size="4.9" text-anchor="middle" fill="#333" style="stroke-width:0.12px;stroke:#333" transform="translate(252.31,316.95) rotate(48.20)">400</text>
<path d="M227.87,301.41 A87.40,87.40 0 0 1 251.26,320.75" fill="none" stroke="#555" stroke-width="0.3"/>
<text x="0" y="0" font-size="4.9" text-anchor="middle" fill="#333" style="stroke-width:0.12px;stroke:#333" transform="translate(257.42,323.20) rotate(53.30)">0</text>
<text x="0" y="0" font-size="4.9" text-anchor="middle" fill="#333" style="stroke-width:0.12px;stroke:#333" transform="translate(265.30,335.80) rotate(62.70)">200</text>
<text x="0" y="0" font-size="4.9" text-anchor="middle" fill="#333" style="stroke-width:0.12px;stroke:#333" transform="translate(270.96,349.37) rotate(72.00)">400</text>
<text x="0" y="0" font-size="4.9" text-anchor="middle" fill="#333" style="stroke-width:0.12px;stroke:#333" transform="translate(274.52,364.78) rotate(82.00)">600</text>
<path d="M252.04,321.69 A87.40,87.40 0 0 1 271.74,369.48" fill="none" stroke="#555" stroke-width="0.3"/>
<text x="0" y="0" font-size="4.9" text-anchor="middle" fill="#333" style="stroke-width:0.12px;stroke:#333" transform="translate(274.83,387.51) rotate(96.40)">0</text>
<text x="0" y="0" font-size="4.9" text-anchor="middle" fill="#333" style="stroke-width:0.12px;stroke:#333" transform="translate(273.35,396.57) rotate(102.20)">200</text>
<text x="0" y="0" font-size="4.9" text-anchor="middle" fill="#333" style="stroke-width:0.12px;stroke:#333" transform="translate(269.71,409.02) rotate(110.40)">400</text>
<text x="0" y="0" font-size="4.9" text-anchor="middle" fill="#333" style="stroke-width:0.12px;stroke:#333" transform="translate(264.86,419.84) rotate(117.90)">600</text>
<text x="0" y="0" font-size="4.9" text-anchor="middle" fill="#333" style="stroke-width:0.12px;stroke:#333" transform="translate(257.04,432.11) rotate(127.10)">800</text>
<text x="0" y="0" font-size="4.9" text-anchor="middle" fill="#333" style="stroke-width:0.12px;stroke:#333" transform="translate(248.72,441.65) rotate(135.10)">1000</text>
<text x="0" y="0" font-size="4.9" text-anchor="middle" fill="#333" style="stroke-width:0.12px;stroke:#333" transform="translate(237.24,451.33) rotate(144.60)">1200</text>
<text x="0" y="0" font-size="4.9" text-anchor="middle" fill="#333" style="stroke-width:0.12px;stroke:#333" transform="translate(223.03,459.60) rotate(155.00)">1400</text>
<path d="M271.77,385.02 A87.40,87.40 0 0 1 216.87,458.66" fill="none" stroke="#555" stroke-width="0.3"/>
<text x="0" y="0" font-size="4.9" text-anchor="middle" fill="#333" style="stroke-width:0.12px;stroke:#333" transform="translate(216.32,462.41) rotate(159.60)">0</text>
<text x="0" y="0" font-size="4.9" text-anchor="middle" fill="#333" style="stroke-width:0.12px;stroke:#333" transform="translate(207.72,465.13) rotate(165.30)">200</text>
<text x="0" y="0" font-size="4.9" text-anchor="middle" fill="#333" style="stroke-width:0.12px;stroke:#333" transform="translate(195.60,467.44) rotate(173.10)">400</text>
<text x="0" y="0" font-size="4.9" text-anchor="middle" fill="#333" style="stroke-width:0.12px;stroke:#333" transform="translate(180.43,468.00) rotate(182.70)">600</text>
<path d="M216.02,458.99 A87.40,87.40 0 0 1 175.26,464.29" fill="none" stroke="#555" stroke-width="0.3"/>
<text x="0" y="0" font-size="4.9" text-anchor="middle" fill="#333" style="stroke-width:0.12px;stroke:#333" transform="translate(172.70,467.30) rotate(187.60)">0</text>
<text x="0" y="0" font-size="4.9" text-anchor="middle" fill="#333" style="stroke-width:0.12px;stroke:#333" transform="translate(163.07,465.48) rotate(193.80)">200</text>
<text x="0" y="0" font-size="4.9" text-anchor="middle" fill="#333" style="stroke-width:0.12px;stroke:#333" transform="translate(149.41,460.95) rotate(202.90)">400</text>
<text x="0" y="0" font-size="4.9" text-anchor="middle" fill="#333" style="stroke-width:0.12px;stroke:#333" transform="translate(135.97,453.90) rotate(212.50)">600</text>
<text x="0" y="0" font-size="4.9" text-anchor="middle" fill="#333" style="stroke-width:0.12px;stroke:#333" transform="translate(124.48,445.23) rotate(221.60)">800</text>
<text x="0" y="0" font-size="4.9" text-anchor="middle" fill="#333" style="stroke-width:0.12px;stroke:#333" transform="translate(115.12,435.58) rotate(230.10)">1000</text>
<path d="M174.35,464.19 A87.40,87.40 0 0 1 112.41,426.53" fill="none" stroke="#555" stroke-width="0.3"/>
<text x="0" y="0" font-size="4.9" text-anchor="middle" fill="#333" style="stroke-width:0.12px;stroke:#333" transform="translate(107.95,425.73) rotate(237.80)">0</text>
<text x="0" y="0" font-size="4.9" text-anchor="middle" fill="#333" style="stroke-width:0.12px;stroke:#333" transform="translate(103.39,417.59) rotate(243.70)">200</text>
<text x="0" y="0" font-size="4.9" text-anchor="middle" fill="#333" style="stroke-width:0.12px;stroke:#333" transform="translate(98.59,405.88) rotate(251.70)">400</text>
<text x="0" y="0" font-size="4.9" text-anchor="middle" fill="#333" style="stroke-width:0.12px;stroke:#333" transform="translate(95.30,392.68) rotate(260.30)">600</text>
<path d="M111.90,425.77 A87.40,87.40 0 0 1 97.59,384.56" fill="none" stroke="#555" stroke-width="0.3"/>
<path d="M97.88,368.29L96.48,368.15M98.01,367.10L96.62,366.94M98.16,365.91L96.77,365.73M98.33,364.72L96.94,364.52M98.51,363.54L97.13,363.31M98.71,362.35L97.33,362.11M98.92,361.17L97.55,360.91M99.40,358.82L98.03,358.52M99.66,357.65L98.30,357.33M99.94,356.48L98.58,356.15M100.24,355.32L98.88,354.97M100.55,354.16L99.20,353.79M100.88,353.01L99.53,352.62M101.22,351.86L99.88,351.45M101.67,350.42L100.34,349.99M102.06,349.27L100.73,348.82M102.46,348.12L101.14,347.65M102.88,346.97L101.56,346.48M103.31,345.83L102.00,345.32M103.76,344.70L102.46,344.17M104.22,343.57L102.93,343.03M105.20,341.34L103.92,340.76M105.71,340.23L104.44,339.63M106.24,339.13L104.98,338.52M106.78,338.04L105.53,337.41M108.86,334.16L107.64,333.47M109.46,333.12L108.25,332.41M110.08,332.09L108.88,331.37M110.71,331.07L109.52,330.33M111.35,330.06L110.17,329.30M112.01,329.06L110.84,328.28M112.68,328.06L111.52,327.27M114.21,325.90L113.08,325.08M115.07,324.74L113.95,323.90M115.95,323.59L114.85,322.73M116.86,322.46L115.77,321.58M117.78,321.34L116.70,320.44M118.71,320.24L117.66,319.32M119.67,319.15L118.63,318.22M121.84,316.82L120.83,315.85M123.05,315.59L122.06,314.60M124.29,314.38L123.32,313.37M125.55,313.19L124.60,312.16M126.84,312.03L125.91,310.98M128.15,310.89L127.24,309.83M129.48,309.78L128.59,308.70M132.10,307.72L131.26,306.61M133.39,306.77L132.56,305.64M134.69,305.84L133.89,304.70M136.01,304.94L135.23,303.78M137.34,304.06L136.59,302.88M138.70,303.20L137.96,302.01M140.06,302.37L139.35,301.17M142.63,300.91L141.95,299.68M143.82,300.27L143.16,299.03M145.02,299.64L144.38,298.39M146.22,299.04L145.61,297.78M147.44,298.45L146.85,297.18M148.67,297.88L148.09,296.61M149.91,297.33L149.35,296.05M152.88,296.10L152.37,294.80M154.63,295.44L154.14,294.13M156.39,294.82L155.93,293.49M158.16,294.23L157.73,292.90M159.94,293.68L159.54,292.34M161.74,293.17L161.37,291.82M163.54,292.70L163.20,291.34M167.22,291.87L166.94,290.50M169.09,291.51L168.84,290.13M170.97,291.19L170.75,289.80M172.85,290.91L172.66,289.52M174.74,290.67L174.58,289.28M176.64,290.47L176.51,289.08M178.53,290.32L178.44,288.92M182.34,290.13L182.30,288.73M184.24,290.10L184.24,288.70M186.15,290.11L186.17,288.71M188.05,290.16L188.10,288.77M189.95,290.26L190.04,288.86M191.85,290.39L191.97,289.00M193.75,290.57L193.89,289.18M197.66,291.07L197.87,289.68M199.67,291.39L199.91,290.01M201.68,291.77L201.95,290.39M203.67,292.19L203.97,290.82M205.65,292.65L205.99,291.29M207.63,293.16L207.99,291.81M209.59,293.72L209.98,292.38M213.12,294.86L213.58,293.53M214.70,295.42L215.18,294.10M216.27,296.01L216.78,294.70M217.83,296.63L218.36,295.33M219.37,297.28L219.93,296.00M220.90,297.96L221.48,296.69M222.42,298.67L223.03,297.41M225.42,300.18L226.07,298.94M226.89,300.97L227.57,299.75M232.87,304.59L233.64,303.42M233.99,305.35L234.78,304.19M235.10,306.12L235.91,304.98M236.20,306.91L237.02,305.78M237.28,307.71L238.13,306.60M238.36,308.54L239.22,307.43M239.42,309.38L240.29,308.28M241.70,311.28L242.61,310.22M242.92,312.35L243.85,311.30M244.11,313.44L245.07,312.41M245.29,314.55L246.26,313.54M246.44,315.68L247.43,314.69M247.58,316.84L248.59,315.87M248.69,318.01L249.72,317.06M250.85,320.43L251.91,319.51M255.75,326.67L256.89,325.86M256.78,328.14L257.93,327.35M257.77,329.63L258.94,328.86M258.73,331.14L259.92,330.40M259.67,332.67L260.87,331.95M260.57,334.21L261.79,333.52M261.44,335.78L262.67,335.11M263.07,338.94L264.33,338.33M263.84,340.54L265.11,339.95M264.57,342.15L265.85,341.59M265.27,343.78L266.56,343.24M265.93,345.42L267.24,344.91M266.56,347.08L267.88,346.59M267.16,348.74L268.49,348.28M268.30,352.24L269.64,351.84M268.82,354.07L270.17,353.70M269.31,355.91L270.67,355.57M269.76,357.76L271.13,357.45M270.17,359.62L271.54,359.34M270.54,361.49L271.91,361.24M270.86,363.37L272.25,363.14M271.39,367.14L272.79,366.97M271.60,369.03L272.99,368.90M271.33,388.23L272.72,388.40M271.18,389.32L272.57,389.51M271.02,390.42L272.41,390.63M270.85,391.51L272.23,391.73M270.67,392.60L272.05,392.84M270.47,393.68L271.84,393.94M270.26,394.77L271.63,395.05M269.68,397.37L271.05,397.69M269.31,398.89L270.67,399.23M268.92,400.40L270.27,400.77M268.49,401.90L269.83,402.30M268.04,403.40L269.38,403.81M267.56,404.88L268.89,405.32M267.06,406.36L268.38,406.83M266.02,409.17L267.32,409.67M265.49,410.49L266.78,411.02M264.93,411.81L266.22,412.36M264.36,413.12L265.64,413.69M263.76,414.42L265.03,415.01M263.15,415.70L264.41,416.32M262.51,416.98L263.76,417.62M261.02,419.79L262.24,420.47M260.15,421.31L261.36,422.02M259.25,422.82L260.45,423.55M258.33,424.31L259.51,425.06M257.37,425.77L258.54,426.55M256.39,427.22L257.54,428.02M255.37,428.65L256.51,429.47M253.40,431.27L254.50,432.13M252.45,432.46L253.54,433.34M251.48,433.63L252.55,434.53M250.49,434.79L251.54,435.71M249.47,435.93L250.51,436.87M248.44,437.05L249.47,438.01M247.39,438.15L248.40,439.13M245.03,440.50L246.00,441.51M243.71,441.74L244.65,442.77M242.36,442.95L243.29,444.00M240.99,444.13L241.89,445.20M239.60,445.28L240.48,446.37M238.18,446.40L239.03,447.51M236.74,447.50L237.57,448.62M233.64,449.69L234.43,450.85M231.99,450.78L232.75,451.96M230.31,451.84L231.05,453.03M228.61,452.85L229.32,454.06M226.89,453.83L227.57,455.05M225.15,454.77L225.79,456.01M223.38,455.66L224.00,456.92M219.79,457.34L220.35,458.62M217.97,458.11L218.50,459.41M214.11,459.60L214.58,460.91M213.09,459.96L213.54,461.28M212.06,460.30L212.50,461.63M211.02,460.64L211.45,461.97M209.99,460.96L210.39,462.30M208.95,461.27L209.33,462.61M207.90,461.56L208.27,462.91M205.41,462.21L205.75,463.57M203.97,462.55L204.28,463.91M202.52,462.86L202.80,464.23M201.06,463.15L201.32,464.53M199.60,463.42L199.84,464.80M198.13,463.66L198.35,465.04M196.66,463.88L196.85,465.26M193.37,464.27L193.51,465.66M191.55,464.43L191.66,465.83M189.73,464.56L189.81,465.95M187.90,464.64L187.95,466.04M186.07,464.69L186.09,466.09M184.24,464.70L184.24,466.10M182.41,464.67L182.38,466.07M178.76,464.50L178.67,465.89M176.94,464.35L176.82,465.75M175.12,464.17L174.97,465.56M171.98,463.77L171.78,465.15M170.82,463.59L170.59,464.97M169.65,463.39L169.41,464.77M168.49,463.18L168.23,464.56M167.33,462.96L167.05,464.33M166.18,462.71L165.88,464.08M165.02,462.45L164.71,463.82M162.20,461.75L161.84,463.10M160.53,461.29L160.14,462.63M158.87,460.79L158.45,462.13M157.22,460.26L156.78,461.59M155.58,459.70L155.11,461.02M153.95,459.10L153.46,460.41M152.33,458.48L151.81,459.78M149.05,457.09L148.48,458.37M147.39,456.33L146.79,457.59M145.75,455.53L145.12,456.78M144.12,454.69L143.47,455.93M142.51,453.83L141.83,455.05M140.92,452.93L140.22,454.14M139.35,451.99L138.62,453.19M136.34,450.08L135.57,451.25M134.91,449.11L134.11,450.26M133.49,448.11L132.67,449.24M132.10,447.08L131.26,448.19M130.73,446.02L129.86,447.12M129.38,444.93L128.49,446.02M128.05,443.82L127.14,444.89M125.54,441.60L124.59,442.63M124.36,440.49L123.39,441.50M123.20,439.36L122.21,440.35M122.06,438.21L121.06,439.18M120.94,437.04L119.92,437.99M119.85,435.84L118.81,436.78M118.78,434.63L117.72,435.55M116.70,432.15L115.61,433.02M115.70,430.88L114.59,431.73M114.72,429.59L113.59,430.42M113.76,428.28L112.62,429.10M112.83,426.96L111.68,427.75M110.23,422.97L109.04,423.70M109.65,422.00L108.45,422.72M109.09,421.03L107.87,421.73M108.53,420.06L107.31,420.74M107.99,419.07L106.76,419.74M107.46,418.08L106.22,418.73M106.94,417.08L105.69,417.72M105.77,414.71L104.51,415.31M105.13,413.33L103.86,413.90M104.52,411.93L103.23,412.48M103.93,410.53L102.63,411.06M103.36,409.11L102.06,409.62M102.82,407.69L101.51,408.17M102.31,406.25L100.98,406.72M101.32,403.25L99.98,403.67M100.85,401.68L99.50,402.07M100.40,400.11L99.05,400.47M99.99,398.52L98.63,398.86M99.61,396.93L98.25,397.24M99.26,395.33L97.89,395.61M98.94,393.72L97.56,393.98M98.39,390.49L97.00,390.70M98.16,388.87L96.77,389.05M97.96,387.24L96.57,387.40M97.79,385.62L96.39,385.75" stroke="#1a1a1a" stroke-width="0.8" fill="none"/>
<path d="M97.86,369.50L95.77,369.31M99.25,360.02L97.19,359.60M104.79,342.49L102.87,341.65M108.36,335.26L106.52,334.24M113.44,327.14L111.73,325.92M120.72,318.15L119.18,316.73M130.89,308.78L129.60,307.13M141.50,301.66L140.46,299.83M151.19,296.90L150.38,294.96M165.38,292.37L164.92,290.32M180.44,290.30L180.34,288.21M195.63,290.89L195.89,288.80M211.50,294.42L212.15,292.42M223.88,299.50L224.82,297.62M231.68,303.94L232.81,302.17M240.40,310.31L241.74,308.69M249.71,319.28L251.27,317.88M254.61,325.29L256.30,324.03M262.19,337.41L264.05,336.44M267.63,350.45L269.63,349.80M271.05,365.26L273.13,364.97M271.36,387.12L273.44,387.35M269.93,395.83L271.98,396.27M266.43,407.80L268.40,408.53M261.76,418.20L263.62,419.19M254.25,430.00L255.92,431.27M246.25,439.17L247.73,440.65M235.21,448.48L236.43,450.19M221.55,456.43L222.44,458.33M215.10,459.13L215.83,461.10M206.83,461.75L207.36,463.78M195.18,463.97L195.43,466.05M180.59,464.50L180.49,466.60M173.17,463.83L172.89,465.92M163.90,462.08L163.40,464.12M150.77,457.73L149.95,459.66M137.85,450.94L136.72,452.71M126.81,442.61L125.41,444.18M117.80,433.33L116.19,434.68M110.91,423.87L109.13,424.99M106.53,416.04L104.64,416.97M101.91,404.78L99.92,405.44M98.75,392.09L96.68,392.45" stroke="#1a1a1a" stroke-width="0.8" fill="none"/>
<defs>
<path id="tl0" d="M84.20,377.22 A100.50,100.50 0 0 1 285.20,377.22"/>
<path id="tl1" d="M87.10,377.23 A97.60,97.60 0 0 1 282.30,377.23"/>
<path id="tl2" d="M87.50,377.23 A97.20,97.20 0 0 1 281.90,377.23"/>
<path id="tl3" d="M84.10,377.22 A100.60,100.60 0 0 1 285.30,377.22"/>
<path id="bl0" d="M78.70,377.59 A106.00,106.00 0 0 0 290.70,377.59"/>
<path id="bl1" d="M78.70,377.59 A106.00,106.00 0 0 0 290.70,377.59"/>
<path id="bl2" d="M78.70,377.59 A106.00,106.00 0 0 0 290.70,377.59"/>
<path id="bl3" d="M78.70,377.59 A106.00,106.00 0 0 0 290.70,377.59"/>
</defs>
<text font-size="9.3" fill="#222" text-anchor="middle"><textPath href="#tl0" startOffset="24.38">Diabetes AD</textPath></text>
<text font-size="9.35" fill="#222" text-anchor="middle"><textPath href="#tl1" startOffset="86.71">Cancer</textPath></text>
<text font-size="9.35" fill="#222" text-anchor="middle"><textPath href="#tl2" startOffset="197.64">Cardiovascular diseases</textPath></text>
<text font-size="9.35" fill="#222" text-anchor="middle"><textPath href="#tl3" startOffset="289.53">Infection</textPath></text>
<text font-size="9.2" fill="#222" text-anchor="middle"><textPath href="#bl0" startOffset="28.86">Micelles</textPath></text>
<text font-size="9.35" fill="#222" text-anchor="middle"><textPath href="#bl1" startOffset="106.19">Polyethylene Glycols</textPath></text>
<text font-size="9.3" fill="#222" text-anchor="middle"><textPath href="#bl2" startOffset="183.71">Hydrogels</textPath></text>
<text font-size="9.2" fill="#222" text-anchor="middle"><textPath href="#bl3" startOffset="257.71">Liposomes</textPath></text>
<text x="176.40" y="263.00" font-size="9.45" text-anchor="middle" font-weight="bold" fill="#111" >Visualization of the Relationship between</text>
<text x="177.20" y="274.00" font-size="9.45" text-anchor="middle" font-weight="bold" fill="#111" >New Delivery Methods and Various Diseases</text>
</svg></body></html>
